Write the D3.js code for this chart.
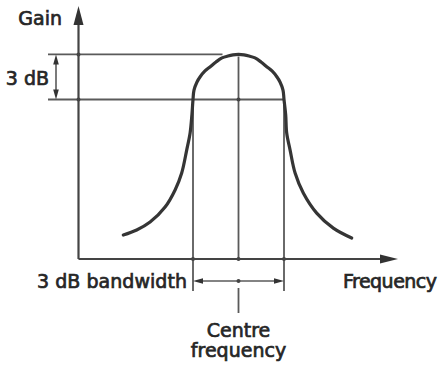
<!DOCTYPE html>
<html>
<head>
<meta charset="utf-8">
<script src="https://cdn.jsdelivr.net/npm/d3@7"></script>
<style>
  html, body { margin: 0; padding: 0; background: #fff; }
  svg text { font-family: "DejaVu Sans", sans-serif; font-size: 19px; fill: #262626; stroke: #262626; stroke-width: 0.7px; }
</style>
</head>
<body>
<svg id="chart" width="440" height="366"></svg>
<script>
// Response curve of a tuned circuit: frequency (arbitrary units) vs gain (dB relative to peak)
const freq = [2.24, 2.91, 3.58, 4.33, 4.83, 5.16, 5.41, 5.58, 5.67, 5.725,
              5.775, 5.925, 6.075, 6.325, 6.575, 6.875, 7.175, 7.475, 7.725, 8.0,
              8.275, 8.525, 8.825, 9.125, 9.425, 9.675, 9.925, 10.075, 10.225, 10.275,
              10.36, 10.41, 10.58, 10.83, 11.24, 11.91, 12.74, 13.66];
const gain = [-12.03, -11.70, -11.17, -10.17, -9.03, -7.90, -6.37, -5.23, -4.03, -3.0,
              -2.37, -1.83, -1.5, -1.1, -0.83, -0.5, -0.23, -0.1, -0.03, 0,
              -0.03, -0.1, -0.23, -0.5, -0.83, -1.1, -1.5, -1.83, -2.37, -3.0,
              -4.03, -5.23, -6.37, -7.9, -9.23, -10.57, -11.57, -12.23];

const centreFreq = 8.0;
const cutoffs = [5.725, 10.275];    // 3 dB points
const peakGain = 0;
const halfPowerGain = -3;

const axisLabels = { y: "Gain", x: "Frequency" };
const dropLabel = "3 dB";
const bandwidthLabel = "3 dB bandwidth";
const centreLabel = ["Centre", "frequency"];

const svg = d3.select("#chart");
const x = d3.scaleLinear().domain([0, 16]).range([78.5, 398.5]);
const y = d3.scaleLinear().domain([-13.63, 3.23]).range([259, 6]);

const lineCol = "#5a5a5a", curveCol = "#353535";
const x0 = x(0), y0 = y.range()[0];

function seg(x1, y1, x2, y2, w = 1.8, c = lineCol) {
  svg.append("line").attr("x1", x1).attr("y1", y1).attr("x2", x2).attr("y2", y2)
    .attr("stroke", c).attr("stroke-width", w);
}
function tri(pts, c = "#333") {
  svg.append("path").attr("d", "M" + pts.map(p => p.join(",")).join("L") + "Z").attr("fill", c);
}

// reference levels: peak and 3 dB down
seg(48, y(peakGain), x(7.2), y(peakGain));
seg(48, y(halfPowerGain), x(cutoffs[1]), y(halfPowerGain));

// 3 dB drop marker
const ax = 56;
seg(ax, y(peakGain) + 4, ax, y(halfPowerGain) - 4, 1.6);
tri([[ax, y(peakGain)], [ax - 2.8, y(peakGain) + 10], [ax + 2.8, y(peakGain) + 10]]);
tri([[ax, y(halfPowerGain)], [ax - 2.8, y(halfPowerGain) - 10], [ax + 2.8, y(halfPowerGain) - 10]]);

// verticals at the cut-off and centre frequencies
cutoffs.forEach(f => seg(x(f), y(halfPowerGain), x(f), 291));
seg(x(centreFreq), y(peakGain) + 2, x(centreFreq), y0);

// bandwidth arrow
const by = 281;
seg(x(cutoffs[0]) + 4, by, x(cutoffs[1]) - 4, by, 1.6);
tri([[x(cutoffs[0]), by], [x(cutoffs[0]) + 10, by - 2.8], [x(cutoffs[0]) + 10, by + 2.8]]);
tri([[x(cutoffs[1]), by], [x(cutoffs[1]) - 10, by - 2.8], [x(cutoffs[1]) - 10, by + 2.8]]);
seg(x(centreFreq), 288, x(centreFreq), 313);

// axes
seg(x0, y0, x0, 22, 2.2, "#444");
seg(x0, y0, 384, y0, 2.2, "#444");
tri([[x0, 6], [x0 - 5, 25], [x0 + 5, 25]]);
tri([[398, y0], [380, y0 - 4.5], [380, y0 + 4.5]]);

// junction dots
[[x0, y(peakGain)], [x0, y(halfPowerGain)], [x(centreFreq), y(halfPowerGain)],
 [x(cutoffs[0]), y0], [x(cutoffs[1]), y0], [x(centreFreq), y0], [x(centreFreq), by]]
  .forEach(([cx, cy]) => svg.append("circle").attr("cx", cx).attr("cy", cy).attr("r", 2).attr("fill", "#444"));

// response curve
const line = d3.line().x(d => x(d[0])).y(d => y(d[1])).curve(d3.curveCatmullRom.alpha(0.5));
svg.append("path").datum(freq.map((f, i) => [f, gain[i]]))
  .attr("d", line).attr("fill", "none").attr("stroke", curveCol)
  .attr("stroke-width", 3.2).attr("stroke-linecap", "round");

// labels
svg.append("text").attr("x", 62).attr("y", 25).attr("text-anchor", "end").text(axisLabels.y);
svg.append("text").attr("x", 437).attr("y", 288).attr("text-anchor", "end").attr("textLength", 94).text(axisLabels.x);
svg.append("text").attr("x", 49).attr("y", 85).attr("text-anchor", "end").text(dropLabel);
svg.append("text").attr("x", 187).attr("y", 288).attr("text-anchor", "end").attr("textLength", 150).text(bandwidthLabel);
svg.append("text").attr("x", x(centreFreq)).attr("y", 337).attr("text-anchor", "middle").text(centreLabel[0]);
svg.append("text").attr("x", x(centreFreq)).attr("y", 357).attr("text-anchor", "middle").text(centreLabel[1]);
</script>
</body>
</html>
